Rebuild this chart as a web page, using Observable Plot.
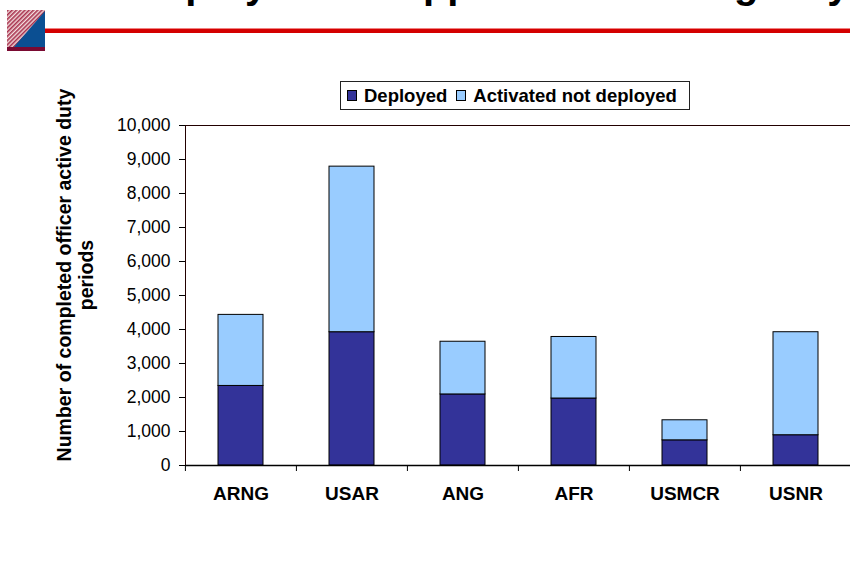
<!DOCTYPE html>
<html>
<head>
<meta charset="utf-8">
<script src="https://cdn.jsdelivr.net/npm/d3@7"></script>
<script src="https://cdn.jsdelivr.net/npm/@observablehq/plot@0.6"></script>
<style>
  html, body { margin: 0; padding: 0; background: #fff; }
  #page { position: relative; width: 850px; height: 580px; overflow: hidden; font-family: "Liberation Sans", Arial, sans-serif; }
  #chart { position: absolute; left: 0; top: 0; }
  #title { position: absolute; left: 134px; top: -36px; font-size: 40px; line-height: 40px; font-weight: bold; white-space: nowrap; color: #000; }
  #logo { position: absolute; left: 7px; top: 10px; }
  #rule { position: absolute; left: 45px; top: 28px; width: 805px; height: 4px; background: #d40000; border-top: 1px solid #f08080; }
  #legend { position: absolute; left: 340px; top: 81px; width: 348px; height: 27px; border: 1px solid #222; display: flex; align-items: center; font-size: 18.5px; font-weight: bold; color: #000; background: #fff; }
  #legend .item { display: flex; align-items: center; }
  #legend .sw { width: 8px; height: 9px; border: 1px solid #000; margin-left: 6px; margin-right: 7px; }
  #ylabel { position: absolute; left: -125px; top: 253px; width: 400px; height: 44px; line-height: 22px; text-align: center; font-size: 19.5px; font-weight: bold; transform: rotate(-90deg); transform-origin: 50% 50%; color: #000; white-space: nowrap; }
</style>
</head>
<body>
<div id="page">
  <div id="chart"></div>
  <div id="title">Deployed in Support the Contingency</div>
  <svg id="logo" width="38" height="41" viewBox="0 0 38 41">
    <defs>
      <pattern id="hatch" width="3" height="3" patternUnits="userSpaceOnUse" patternTransform="rotate(45)">
        <rect width="3" height="3" fill="#f3dede"/>
        <rect width="1.6" height="3" fill="#a8324e"/>
      </pattern>
    </defs>
    <rect x="0" y="0" width="38" height="38" fill="url(#hatch)"/>
    <polygon points="6,38 38,1 38,38" fill="#0b4f92"/>
    <rect x="0" y="37" width="38" height="4" fill="#7a0a32"/>
  </svg>
  <div id="rule"></div>
  <div id="legend"></div>
  <div id="ylabel">Number of completed officer active duty<br>periods</div>
</div>
<script>
// ---- data ----
const categories = ["ARNG", "USAR", "ANG", "AFR", "USMCR", "USNR"];
const seriesNames = ["Deployed", "Activated not deployed"];
const deployed = [2340, 3920, 2090, 1970, 740, 890];
const activatedNotDeployed = [2090, 4870, 1550, 1810, 590, 3030];
const yTicks = [0, 1000, 2000, 3000, 4000, 5000, 6000, 7000, 8000, 9000, 10000];
const seriesColors = ["#333399", "#99CCFF"];

// ---- table ----
const rows = [];
categories.forEach((c, i) => {
  rows.push({category: c, series: seriesNames[0], value: deployed[i]});
  rows.push({category: c, series: seriesNames[1], value: activatedNotDeployed[i]});
});

const W = 850, H = 580, ML = 185, MR = -2, MT = 125, MB = 115;
const step = (W - ML - MR) / categories.length;

const chart = Plot.plot({
  width: W,
  height: H,
  marginLeft: ML,
  marginRight: MR,
  marginTop: MT,
  marginBottom: MB,
  style: {fontFamily: "'Liberation Sans', Arial, sans-serif", fontSize: "17px", color: "#000", background: "transparent", overflow: "visible"},
  x: {domain: categories, paddingInner: 0.594, paddingOuter: 0.297, align: 0.5},
  y: {domain: [0, 10000]},
  color: {domain: seriesNames, range: seriesColors},
  marks: [
    Plot.barY(rows, {x: "category", y: "value", fill: "series", stroke: "#000", strokeWidth: 1}),
    Plot.frame({stroke: "#200"}),
    Plot.ruleY([0], {stroke: "#000", strokeWidth: 1.5}),
    Plot.ruleX(categories, {x: d => d, y1: 0, y2: 0, insetBottom: -6, dx: -step / 2, stroke: "#000"}),
    Plot.axisY({ticks: yTicks, tickSize: 6, tickPadding: 9, label: null, fontSize: 17.5, stroke: "#000"}),
    Plot.axisX({tickSize: 0, tickPadding: 21, label: null, fontSize: 19, fontWeight: "bold"})
  ]
});
document.getElementById("chart").appendChild(chart);

// ---- legend ----
const legend = document.getElementById("legend");
seriesNames.forEach((name, i) => {
  const item = document.createElement("div");
  item.className = "item";
  const sw = document.createElement("span");
  sw.className = "sw";
  sw.style.background = seriesColors[i];
  if (i > 0) sw.style.marginLeft = "9px";
  const t = document.createElement("span");
  t.textContent = name;
  item.appendChild(sw);
  item.appendChild(t);
  legend.appendChild(item);
});
</script>
</body>
</html>
